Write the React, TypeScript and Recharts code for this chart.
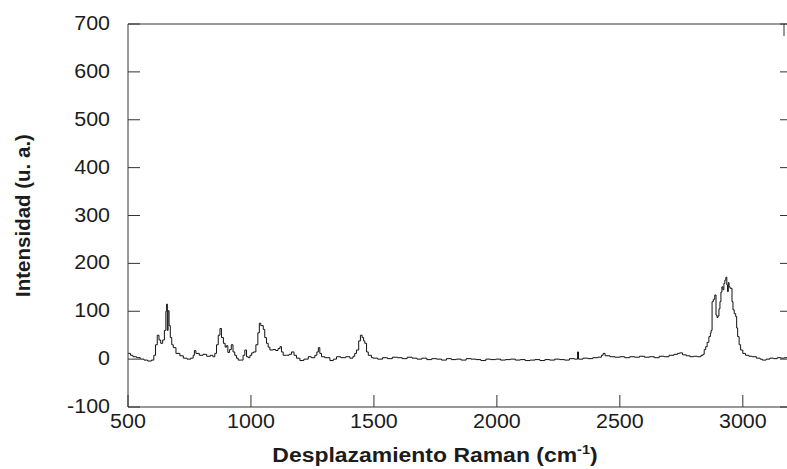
import { LineChart, Line, XAxis, YAxis, Label } from 'recharts'

// Raman spectrum
const wavenumbers = [
  500, 510, 520, 535, 550, 565, 580, 595, 605, 612, 619, 626, 633, 641, 648, 654, 657, 660, 663, 667,
  672, 678, 684, 695, 711, 725, 740, 755, 765, 770, 776, 790, 805, 820, 835, 845, 853, 860, 867, 874,
  880, 888, 895, 900, 906, 913, 920, 927, 934, 941, 948, 961, 968, 975, 982, 989, 996, 1003, 1010, 1020,
  1028, 1034, 1040, 1050, 1056, 1063, 1070, 1077, 1090, 1100, 1110, 1118, 1124, 1131, 1145, 1155, 1165, 1175, 1185, 1199,
  1215, 1233, 1245, 1260, 1268, 1274, 1280, 1287, 1300, 1321, 1335, 1348, 1365, 1385, 1402, 1415, 1422, 1429, 1438, 1445,
  1452, 1458, 1463, 1470, 1477, 1490, 1497, 1515, 1535, 1555, 1575, 1595, 1615, 1635, 1655, 1675, 1695, 1715, 1735, 1755,
  1775, 1795, 1815, 1835, 1855, 1875, 1895, 1915, 1935, 1955, 1975, 1995, 2015, 2035, 2055, 2075, 2095, 2115, 2135, 2155,
  2175, 2195, 2215, 2235, 2255, 2275, 2295, 2315, 2328, 2332, 2350, 2370, 2390, 2410, 2425, 2432, 2440, 2460, 2480, 2500,
  2520, 2540, 2560, 2580, 2600, 2620, 2640, 2660, 2680, 2700, 2720, 2735, 2743, 2755, 2770, 2785, 2800, 2815, 2830, 2838,
  2843, 2849, 2855, 2862, 2868, 2871, 2875, 2880, 2886, 2891, 2895, 2899, 2903, 2907, 2911, 2915, 2919, 2923, 2927, 2931,
  2935, 2938, 2941, 2944, 2948, 2952, 2956, 2960, 2965, 2971, 2975, 2979, 2985, 2991, 3000, 3011, 3025, 3038, 3055, 3070,
  3079, 3095, 3110, 3125, 3140, 3155, 3170, 3185, 3200,
]

const intensity = [
  12, 8, 5, 3, 0, -2, -4, -2, 8, 30, 50, 40, 33, 40, 60, 100, 115, 60, 101, 70,
  45, 30, 24, 12, 7, 2, 0, 2, 8, 18, 12, 8, 10, 6, 8, 5, 12, 30, 50, 64,
  45, 33, 25, 28, 14, 20, 30, 15, 8, 2, -2, -2, 8, 19, 5, 3, 8, 13, 15, 30,
  55, 75, 70, 62, 45, 33, 25, 19, 20, 18, 22, 26, 15, 8, 8, 10, 15, 8, 2, -3,
  0, 5, 3, 8, 15, 24, 12, 5, 3, -3, 0, 5, 3, 5, 2, 6, 12, 19, 38, 50,
  45, 38, 33, 15, 8, 3, 2, 0, 3, 1, 4, 3, 1, 4, 2, 0, 2, -1, 1, 0,
  -2, 1, -1, 0, -2, 1, 0, -1, -3, 0, -1, 0, -2, -1, 0, -2, -1, -3, -2, -1,
  -3, -1, -2, 0, -1, -2, 1, 0, 15, 0, 2, 1, 3, 4, 8, 12, 7, 5, 4, 5,
  3, 5, 4, 6, 4, 5, 3, 6, 5, 8, 10, 12, 13, 9, 7, 5, 6, 5, 8, 10,
  20, 26, 35, 47, 54, 60, 120, 125, 134, 92, 87, 90, 105, 120, 140, 151, 145, 158, 165, 171,
  155, 141, 160, 151, 148, 148, 120, 103, 95, 89, 65, 47, 30, 19, 12, 8, 6, 5, 2, 0,
  -2, 0, 2, 1, 3, 2, 3, 1, 2,
]

const xTicks = [500, 1000, 1500, 2000, 2500, 3000]
const yTicks = [-100, 0, 100, 200, 300, 400, 500, 600, 700]

const data = wavenumbers.map((w, i) => ({ w, v: intensity[i] }))

const FONT = 'Liberation Sans, Arial, Helvetica, sans-serif'
const INK = '#1c1c1c'
const FRAME = '#333'
const TICK_LEN = 12

function LeftTick({ x, y, payload }: any) {
  return (
    <g>
      <text transform={`translate(${x}, ${y + 6}) scale(1.1, 1)`} textAnchor="end" fontSize={19.5} fill={INK} fontFamily={FONT}>
        {payload.value}
      </text>
      <line x1={x + 18} x2={x + 18 + TICK_LEN} y1={y} y2={y} stroke={FRAME} />
    </g>
  )
}

function BottomTick({ x, y, payload }: any) {
  return (
    <g>
      <text transform={`translate(${x}, ${y + 21}) scale(1.1, 1)`} textAnchor="middle" fontSize={19.5} fill={INK} fontFamily={FONT}>
        {payload.value}
      </text>
      <line x1={x} x2={x} y1={y} y2={y - TICK_LEN} stroke={FRAME} />
    </g>
  )
}

function TopTick({ x, y }: any) {
  return <line x1={x} x2={x} y1={y} y2={y + TICK_LEN} stroke={FRAME} />
}

function RightTick({ x, y }: any) {
  return <line x1={x - TICK_LEN} x2={x} y1={y} y2={y} stroke={FRAME} />
}

function XTitle({ viewBox }: any) {
  const cx = viewBox.x + viewBox.width / 2 - 25
  return (
    <text transform={`translate(${cx}, 462) scale(1.12, 1)`} textAnchor="middle" fontSize={20.5} fontWeight="bold" fill={INK} fontFamily={FONT}>
      Desplazamiento Raman (cm
      <tspan fontSize={13} dy={-8}>-1</tspan>
      <tspan dy={8}>)</tspan>
    </text>
  )
}

function YTitle({ viewBox }: any) {
  const cy = viewBox.y + viewBox.height / 2
  return (
    <text transform={`translate(30, ${cy}) rotate(-90)`} textAnchor="middle" fontSize={20.5} fontWeight="bold" fill={INK} fontFamily={FONT}>
      Intensidad (u. a.)
    </text>
  )
}

export default function App() {
  return (
    <div style={{ position: 'absolute', left: 0, top: 0, width: 787, height: 469, overflow: 'hidden', background: '#fff' }}>
      <LineChart width={800} height={469} data={data} margin={{ top: 0, right: 0, bottom: 0, left: 0 }}>
        <XAxis
          xAxisId="b"
          dataKey="w"
          type="number"
          domain={[500, 3200]}
          allowDataOverflow
          ticks={xTicks}
          height={62}
          tickSize={0}
          tickMargin={0}
          tickLine={false}
          axisLine={{ stroke: FRAME }}
          tick={<BottomTick />}
        >
          <Label content={<XTitle />} />
        </XAxis>
        <XAxis
          xAxisId="t"
          orientation="top"
          type="number"
          domain={[500, 3200]}
          allowDataOverflow
          ticks={xTicks}
          height={24}
          tickSize={0}
          tickMargin={0}
          tickLine={false}
          axisLine={{ stroke: FRAME }}
          tick={<TopTick />}
        />
        <YAxis
          yAxisId="l"
          type="number"
          domain={[-100, 700]}
          allowDataOverflow
          ticks={yTicks}
          width={128}
          tickSize={0}
          tickMargin={18}
          tickLine={false}
          axisLine={{ stroke: FRAME }}
          tick={<LeftTick />}
        >
          <Label content={<YTitle />} />
        </YAxis>
        <YAxis
          yAxisId="r"
          orientation="right"
          type="number"
          domain={[-100, 700]}
          allowDataOverflow
          ticks={yTicks}
          width={8}
          tickSize={0}
          tickMargin={0}
          tickLine={false}
          axisLine={{ stroke: FRAME }}
          tick={<RightTick />}
        />
        <Line
          xAxisId="b"
          yAxisId="l"
          dataKey="v"
          type="stepAfter"
          stroke="#111"
          strokeWidth={1}
          dot={false}
          isAnimationActive={false}
        />
      </LineChart>
    </div>
  )
}
